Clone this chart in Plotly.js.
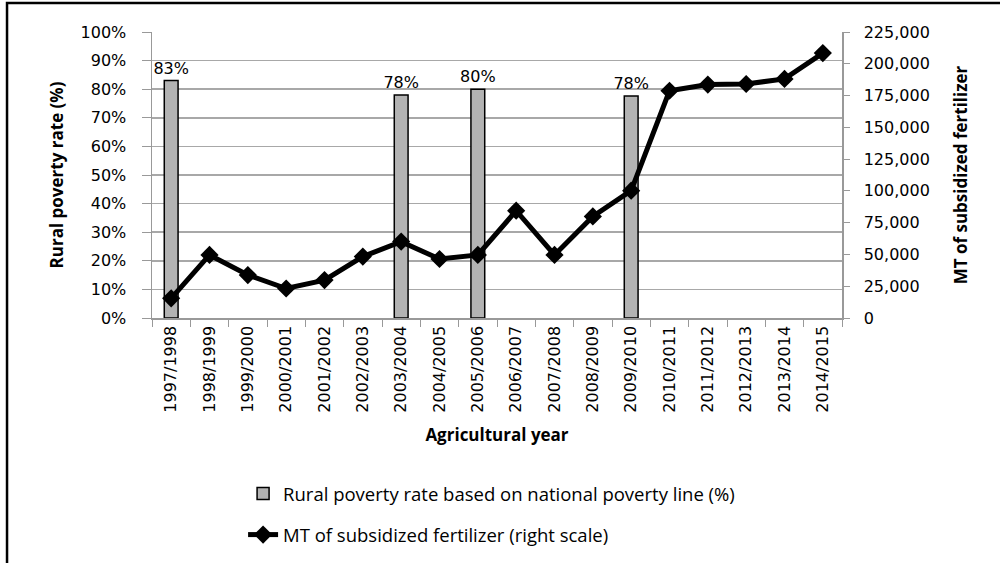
<!DOCTYPE html>
<html>
<head>
<meta charset="utf-8">
<script src="https://cdn.plot.ly/plotly-3.0.1.min.js"></script>
<style>
html,body{margin:0;padding:0;background:#fff;}
#chart{width:1000px;height:563px;}
</style>
</head>
<body>
<div id="chart"></div>
<script>
var years = ["1997/1998","1998/1999","1999/2000","2000/2001","2001/2002","2002/2003","2003/2004","2004/2005","2005/2006","2006/2007","2007/2008","2008/2009","2009/2010","2010/2011","2011/2012","2012/2013","2013/2014","2014/2015"];
var povertyYears = ["1997/1998","2003/2004","2005/2006","2009/2010"];
var povertyRate = [83, 78, 80, 77.6];
var fertilizerMT = [15500, 49600, 33800, 23200, 29800, 48300, 60100, 46400, 49600, 84400, 49600, 79900, 100200, 178800, 183600, 184100, 188100, 208400];

var tickFont = {family: "DejaVu Sans, Verdana, sans-serif", size: 16, color: "#000"};
var titleFont = {family: "Open Sans, sans-serif", size: 17, color: "#000", weight: "bold"};

var traces = [
  {
    type: "bar",
    name: "Rural poverty rate based on national poverty line (%)",
    x: povertyYears,
    y: povertyRate,
    width: 0.36,
    marker: {color: "#b3b3b3", line: {color: "#000", width: 1.5}},
    text: povertyRate.map(function(v){return Math.round(v) + "%";}),
    textposition: "outside",
    constraintext: "none",
    textfont: tickFont,
    cliponaxis: false,
    legendgroup: "a",
    yaxis: "y"
  },
  {
    type: "scatter",
    mode: "lines+markers",
    name: "MT of subsidized fertilizer (right scale)",
    x: years,
    y: fertilizerMT,
    line: {color: "#000", width: 5},
    marker: {symbol: "diamond", size: 14, color: "#000"},
    legendgroup: "b",
    yaxis: "y2"
  }
];

var layout = {
  width: 1000,
  height: 563,
  margin: {l: 152, r: 158, t: 32, b: 245, autoexpand: false},
  paper_bgcolor: "#fff",
  plot_bgcolor: "#fff",
  showlegend: true,
  bargap: 0,
  xaxis: {
    type: "category",
    categoryorder: "array",
    categoryarray: years,
    range: [-0.5, 17.5],
    tickangle: -90,
    tickfont: tickFont,
    tickson: "boundaries",
    ticks: "outside",
    ticklen: 7,
    tickcolor: "#999",
    showline: true,
    linecolor: "#999",
    linewidth: 1.5,
    showgrid: false,
    title: {text: "Agricultural year", font: titleFont, standoff: 17}
  },
  yaxis: {
    range: [0, 100],
    dtick: 10,
    ticksuffix: "%",
    tickfont: tickFont,
    ticks: "outside",
    ticklen: 9,
    ticklabelstandoff: 12,
    tickcolor: "#999",
    showline: true,
    linecolor: "#999",
    linewidth: 1.5,
    showgrid: true,
    gridcolor: "#a8a8a8",
    gridwidth: 1.5,
    zeroline: false,
    title: {text: "Rural poverty rate (%)", font: titleFont, standoff: 12}
  },
  yaxis2: {
    overlaying: "y",
    side: "right",
    range: [0, 225000],
    dtick: 25000,
    tickformat: ",d",
    tickfont: tickFont,
    ticks: "outside",
    ticklen: 6,
    ticklabelstandoff: 11,
    tickcolor: "#999",
    showline: true,
    linecolor: "#999",
    linewidth: 1.5,
    showgrid: false,
    zeroline: false,
    title: {text: "MT of subsidized fertilizer", font: titleFont, standoff: 26}
  },
  legend: {
    x: 0.132,
    xanchor: "left",
    y: -0.549,
    yanchor: "top",
    orientation: "v",
    traceorder: "grouped",
    tracegroupgap: 14,
    font: {family: "Open Sans, sans-serif", size: 18.5, color: "#000"},
    bgcolor: "rgba(0,0,0,0)"
  },
  shapes: [
    {type: "rect", xref: "paper", yref: "paper", x0: -0.2101, x1: 1.25, y0: -0.9, y1: 1.1014,
     line: {color: "#000", width: 2.5}, fillcolor: "rgba(0,0,0,0)", layer: "below"}
  ]
};

Plotly.newPlot("chart", traces, layout, {staticPlot: true, displayModeBar: false});
</script>
</body>
</html>
